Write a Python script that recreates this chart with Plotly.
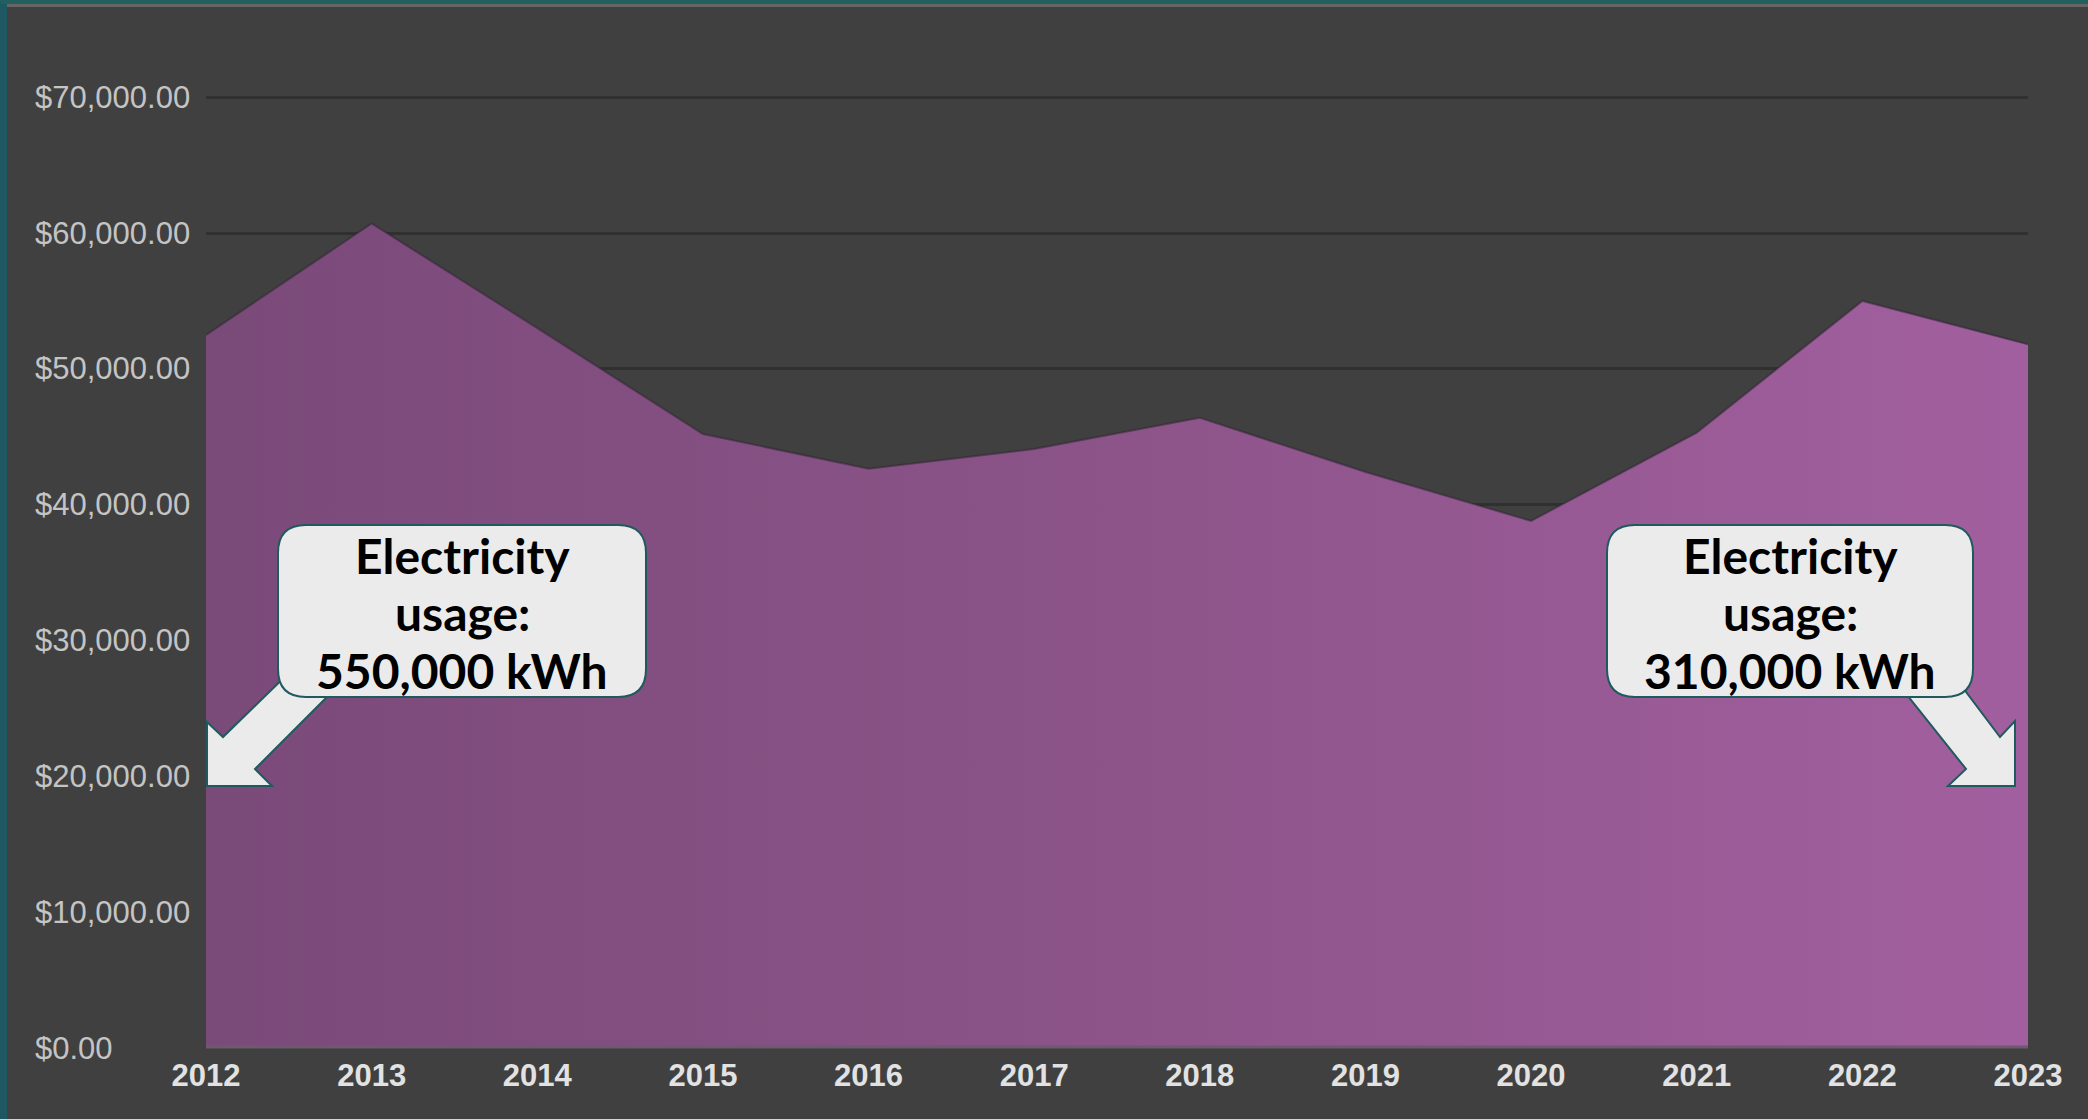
import plotly.graph_objects as go

# ---- data ----
years = [2012, 2013, 2014, 2015, 2016, 2017, 2018, 2019, 2020, 2021, 2022, 2023]
costs = [52500, 60700, 53000, 45200, 42650, 44100, 46400, 42400, 38800, 45300, 55000, 51800]
y_ticks = [0, 10000, 20000, 30000, 40000, 50000, 60000, 70000]
y_tick_labels = ["$0.00", "$10,000.00", "$20,000.00", "$30,000.00", "$40,000.00",
                 "$50,000.00", "$60,000.00", "$70,000.00"]
x_tick_labels = ["2012", "2013", "2014", "2015", "2016", "2017", "2018", "2019",
                 "2020", "2021", "2022", "2023"]
callout_left = ["Electricity", "usage:", "550,000 kWh"]
callout_right = ["Electricity", "usage:", "310,000 kWh"]

# ---- layout geometry (pixels) ----
WIDTH, HEIGHT = 2088, 1119
Y_TOP = 72000
PL, PR, PB = 206, 2028, 1048
PX_PER_UNIT = (1048 - 97) / 70000.0
PT = int(round(PB - Y_TOP * PX_PER_UNIT))
PW, PH = PR - PL, PB - PT


def px(x):
    return (x - PL) / PW


def py(y):
    return (PB - y) / PH


def path_from(points, close=True):
    s = "M {:.5f},{:.5f}".format(px(points[0][0]), py(points[0][1]))
    for x, y in points[1:]:
        s += " L {:.5f},{:.5f}".format(px(x), py(y))
    if close:
        s += " Z"
    return s


def rounded_rect(x0, y0, x1, y1, r):
    def P(x, y):
        return "{:.5f},{:.5f}".format(px(x), py(y))
    return (
        "M " + P(x0 + r, y0) +
        " L " + P(x1 - r, y0) + " Q " + P(x1, y0) + " " + P(x1, y0 + r) +
        " L " + P(x1, y1 - r) + " Q " + P(x1, y1) + " " + P(x1 - r, y1) +
        " L " + P(x0 + r, y1) + " Q " + P(x0, y1) + " " + P(x0, y1 - r) +
        " L " + P(x0, y0 + r) + " Q " + P(x0, y0) + " " + P(x0 + r, y0) + " Z"
    )


fig = go.Figure()

fig.add_trace(go.Scatter(
    x=years, y=costs, mode="lines", fill="tozeroy",
    line=dict(color="rgba(45,35,50,0.5)", width=2),
    fillgradient=dict(type="horizontal",
                      colorscale=[[0, "#7a4a79"], [0.5, "#8c5489"], [1, "#a25f9f"]]),
    hoverinfo="skip", showlegend=False,
))

BOX_FILL = "#ebebeb"
BOX_LINE = "#1f5a5e"

shapes = []
# page frame: teal left border and top band
shapes.append(dict(type="rect", xref="paper", yref="paper",
                   x0=px(0), x1=px(7), y0=py(HEIGHT), y1=py(0),
                   fillcolor="#1e5862", line=dict(width=0), layer="above"))
shapes.append(dict(type="rect", xref="paper", yref="paper",
                   x0=px(0), x1=px(WIDTH), y0=py(4), y1=py(0),
                   fillcolor="#22605f", line=dict(width=0), layer="above"))
shapes.append(dict(type="rect", xref="paper", yref="paper",
                   x0=px(7), x1=px(WIDTH), y0=py(7), y1=py(4),
                   fillcolor="#666666", line=dict(width=0), layer="above"))
# baseline strip
shapes.append(dict(type="line", xref="paper", yref="paper",
                   x0=0, x1=1, y0=py(1047), y1=py(1047),
                   line=dict(color="#6e5a6e", width=3), layer="above"))

# left callout arrow (points down-left)
arrow1 = [(300, 662), (223, 737), (207, 722), (207, 786), (272, 786), (255, 769), (342, 682)]
# right callout arrow (points down-right)
arrow2 = [(1895, 680), (1966, 769), (1948, 786), (2015, 786), (2015, 721), (2000, 737), (1957, 680)]
for arr in (arrow1, arrow2):
    shapes.append(dict(type="path", xref="paper", yref="paper", path=path_from(arr),
                       fillcolor=BOX_FILL, line=dict(color=BOX_LINE, width=2), layer="above"))

boxes = [(278, 525, 646, 697), (1607, 525, 1973, 697)]
for (x0, y0, x1, y1) in boxes:
    shapes.append(dict(type="path", xref="paper", yref="paper",
                       path=rounded_rect(x0, y0, x1, y1, 28),
                       fillcolor=BOX_FILL, line=dict(color=BOX_LINE, width=2), layer="above"))

annotations = []
line_centers = [555, 612, 670]
for (x0, y0, x1, y1), lines in zip(boxes, (callout_left, callout_right)):
    for yc, txt in zip(line_centers, lines):
        annotations.append(dict(
            xref="paper", yref="paper", x=px((x0 + x1) / 2), y=py(yc),
            text="<b>" + txt + "</b>", showarrow=False, xanchor="center", yanchor="middle",
            align="center", font=dict(family="Lato, Noto Sans, sans-serif", size=48, color="#000000"),
        ))

# left-aligned y tick labels
for v, lab in zip(y_ticks, y_tick_labels):
    annotations.append(dict(
        xref="paper", yref="y", x=px(33), y=v, text=lab, showarrow=False,
        xanchor="left", yanchor="middle",
        font=dict(family="Liberation Sans, Arial, sans-serif", size=31, color="#c4c4c4"),
    ))

fig.update_layout(
    width=WIDTH, height=HEIGHT,
    margin=dict(l=PL, r=WIDTH - PR, t=PT, b=HEIGHT - PB),
    paper_bgcolor="#404040", plot_bgcolor="#404040",
    shapes=shapes, annotations=annotations,
    showlegend=False,
    xaxis=dict(range=[years[0], years[-1]], tickmode="array", tickvals=years,
               ticktext=["<b>" + t + "</b>" for t in x_tick_labels],
               showgrid=False, zeroline=False, showline=False, ticks="",
               tickfont=dict(family="Liberation Sans, Arial, sans-serif", size=31, color="#e2e2e2"),
               ticklabelstandoff=6),
    yaxis=dict(range=[0, Y_TOP], tickmode="array", tickvals=y_ticks, showticklabels=False,
               showgrid=True, gridcolor="#303030", gridwidth=3, zeroline=False,
               showline=False, ticks=""),
)

fig.write_html(
    "out.html",
    config={"displayModeBar": False},
    post_script="document.body.style.margin='0';document.body.style.overflow='hidden';"
                "document.body.style.background='#404040';",
)
